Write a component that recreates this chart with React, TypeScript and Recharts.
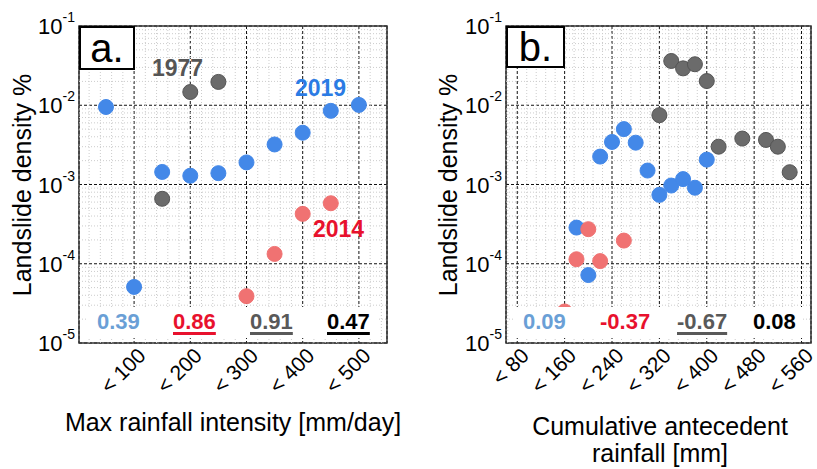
import React from "react";
import { ScatterChart, Scatter, XAxis, YAxis, CartesianGrid, ReferenceLine, ReferenceArea } from "recharts";

const FONT = "'Liberation Sans', Arial, Helvetica, sans-serif";

// panel a: max rainfall intensity [mm/day]
const intensity2019 = [50, 100, 150, 200, 250, 300, 350, 400, 450, 500];
const densityA2019 = [0.0095, 5.1e-5, 0.00144, 0.00129, 0.00139, 0.0019, 0.0032, 0.0045, 0.0085, 0.0101];
const intensity1977 = [150, 200, 250];
const densityA1977 = [0.00066, 0.0147, 0.0197];
const intensity2014 = [300, 350, 400, 450];
const densityA2014 = [3.9e-5, 0.000133, 0.000426, 0.00058];

// panel b: cumulative antecedent rainfall [mm]
const cumul2019 = [180, 200, 220, 240, 260, 280, 300, 320, 340, 360, 380, 400];
const densityB2019 = [0.000286, 7.2e-5, 0.00225, 0.00344, 0.005, 0.00337, 0.0015, 0.00074, 0.00097, 0.00117, 0.00091, 0.00206];
const cumul1977 = [320, 340, 360, 380, 400, 420, 460, 500, 520, 540];
const densityB1977 = [0.0075, 0.0362, 0.0292, 0.0329, 0.0202, 0.003, 0.0038, 0.00365, 0.003, 0.00143];
const cumul2014 = [160, 180, 200, 220, 260];
const densityB2014 = [2.5e-5, 0.000114, 0.000273, 0.000108, 0.000196];

const yTicks = [1e-5, 1e-4, 1e-3, 1e-2, 1e-1];
const ticksA = [100, 200, 300, 400, 500];
const ticksB = [80, 160, 240, 320, 400, 480, 560];

const corrA = [
  { text: "0.39", color: "#6a9fd6", under: false },
  { text: "0.86", color: "#e8112d", under: true },
  { text: "0.91", color: "#595959", under: true },
  { text: "0.47", color: "#000000", under: true },
];
const corrB = [
  { text: "0.09", color: "#6a9fd6", under: false },
  { text: "-0.37", color: "#e8112d", under: false },
  { text: "-0.67", color: "#595959", under: true },
  { text: "0.08", color: "#000000", under: false },
];

const BLUE = "#4388e8";
const GRAY = "#6b6b6b";
const RED = "#f07272";

const toPts = (xs: number[], ys: number[]) => xs.map((x, i) => ({ x, y: ys[i] }));

// log minor grid 2..9 x 10^k
const minorY: number[] = [];
[-5, -4, -3, -2].forEach((k) => {
  for (let m = 2; m <= 9; m++) minorY.push(m * Math.pow(10, k));
});

const dot = (fill: string, stroke: string) => (p: any) => (
  <circle cx={p.cx} cy={p.cy} r={7.5} fill={fill} stroke={stroke} strokeWidth={1} />
);

const PowerTick = (props: any) => {
  const { x, y, payload } = props;
  const exp = Math.round(Math.log10(payload.value));
  return (
    <text x={x - 4} y={y + 8} textAnchor="end" fontFamily={FONT} fill="#000">
      <tspan fontSize={22}>10</tspan>
      <tspan fontSize={14} dy={-12}>{exp}</tspan>
    </text>
  );
};

const SlantTick = (props: any) => {
  const { x, y, payload } = props;
  const ax = x + 13;
  const ay = y + 14;
  return (
    <text x={ax} y={ay} textAnchor="end" fontFamily={FONT} fontSize={21} fill="#000" transform={`rotate(-45 ${ax} ${ay})`}>
      {"< " + payload.value}
    </text>
  );
};

function Txt({ left, baseline, size, color, bold, under, children }: any) {
  return (
    <div
      style={{
        position: "absolute",
        left,
        top: baseline - 0.8465 * size,
        fontSize: size,
        lineHeight: `${size}px`,
        fontFamily: FONT,
        fontWeight: bold ? "bold" : "normal",
        color,
        whiteSpace: "nowrap",
        textDecoration: under ? "underline" : "none",
        textDecorationThickness: "2.5px",
        textUnderlineOffset: "3px",
      }}
    >
      {children}
    </div>
  );
}

interface PanelProps {
  width: number;
  axisWidth: number;
  rightMargin: number;
  xDomain: [number, number];
  xTicks: number[];
  minorStep: number;
  gray: { x: number; y: number }[];
  blue: { x: number; y: number }[];
  red: { x: number; y: number }[];
}

function Panel({ width, axisWidth, rightMargin, xDomain, xTicks, minorStep, gray, blue, red }: PanelProps) {
  const minorX: number[] = [];
  for (let v = xTicks[0] - minorStep * Math.floor((xTicks[0] - xDomain[0]) / minorStep); v < xDomain[1]; v += minorStep) {
    if (!xTicks.includes(v)) minorX.push(v);
  }
  return (
    <ScatterChart width={width} height={469} margin={{ top: 26, right: rightMargin, bottom: 0, left: 0 }} style={{ overflow: "visible" }}>
      <XAxis
        type="number"
        dataKey="x"
        domain={xDomain}
        ticks={xTicks}
        allowDataOverflow
        axisLine={false}
        tickLine={false}
        tickSize={0}
        tickMargin={0}
        height={126}
        tick={<SlantTick />}
        interval={0}
      />
      <YAxis
        type="number"
        dataKey="y"
        scale="log"
        domain={[1e-5, 1e-1]}
        ticks={yTicks}
        allowDataOverflow
        axisLine={false}
        tickLine={false}
        tickSize={0}
        tickMargin={0}
        width={axisWidth}
        tick={<PowerTick />}
        interval={0}
      />
      {minorX.map((v) => (
        <ReferenceLine key={"mx" + v} x={v} stroke="#cccccc" strokeDasharray="1 2" />
      ))}
      {minorY.map((v) => (
        <ReferenceLine key={"my" + v} y={v} stroke="#cccccc" strokeDasharray="1 2" />
      ))}
      <CartesianGrid stroke="#111" strokeDasharray="3 2" />
      <ReferenceArea x1={xDomain[0]} x2={xDomain[1]} y1={1e-5} y2={1e-1} fill="none" stroke="#333" strokeWidth={1.5} ifOverflow="visible" />
      <Scatter data={gray} shape={dot(GRAY, "#555")} isAnimationActive={false} />
      <Scatter data={blue} shape={dot(BLUE, BLUE)} isAnimationActive={false} />
      <Scatter data={red} shape={dot(RED, RED)} isAnimationActive={false} />
    </ScatterChart>
  );
}

function CorrRow({ items, lefts }: { items: typeof corrA; lefts: number[] }) {
  return (
    <>
      {items.map((c, i) => (
        <Txt key={c.text} left={lefts[i]} baseline={330} size={22} color={c.color} bold under={c.under}>
          {c.text}
        </Txt>
      ))}
    </>
  );
}

const boxStyle: React.CSSProperties = {
  position: "absolute",
  border: "2px solid #000",
  background: "#fff",
  boxSizing: "border-box",
  fontFamily: FONT,
  fontSize: 40,
  textAlign: "center",
  color: "#000",
};

export default function App() {
  return (
    <div style={{ position: "fixed", left: 0, top: 0, width: 817, height: 469, background: "#fff", overflow: "hidden" }}>
      <div style={{ position: "absolute", left: 0, top: 0 }}>
        <Panel
          width={410}
          axisWidth={79}
          rightMargin={23}
          xDomain={[2, 550]}
          xTicks={ticksA}
          minorStep={20}
          gray={toPts(intensity1977, densityA1977)}
          blue={toPts(intensity2019, densityA2019)}
          red={toPts(intensity2014, densityA2014)}
        />
      </div>
      <div style={{ position: "absolute", left: 410, top: 0 }}>
        <Panel
          width={407}
          axisWidth={96}
          rightMargin={6}
          xDomain={[61, 576]}
          xTicks={ticksB}
          minorStep={16}
          gray={toPts(cumul1977, densityB1977)}
          blue={toPts(cumul2019, densityB2019)}
          red={toPts(cumul2014, densityB2014)}
        />
      </div>

      {/* label strip masks */}
      <div style={{ position: "absolute", left: 88, top: 307, width: 290, height: 31, background: "#fff" }} />
      <div style={{ position: "absolute", left: 515, top: 307, width: 288, height: 31, background: "#fff" }} />

      {/* panel letters */}
      <div style={{ ...boxStyle, left: 79, top: 26, width: 56, height: 44, lineHeight: "40px" }}>a.</div>
      <div style={{ ...boxStyle, left: 506, top: 26, width: 59, height: 42, lineHeight: "38px" }}>b.</div>

      {/* year labels */}
      <Txt left={152} baseline={76} size={23} color="#555555" bold>1977</Txt>
      <Txt left={295} baseline={96} size={23} color="#2b7be4" bold>2019</Txt>
      <Txt left={313} baseline={237} size={23} color="#e8112d" bold>2014</Txt>

      <CorrRow items={corrA} lefts={[97, 173, 250, 327]} />
      <CorrRow items={corrB} lefts={[523, 600, 677, 753]} />

      {/* axis titles */}
      {[22, 448].map((cx) => (
        <div
          key={cx}
          style={{
            position: "absolute",
            left: cx,
            top: 185,
            transform: "translate(-50%, -50%) rotate(-90deg)",
            fontFamily: FONT,
            fontSize: 25,
            whiteSpace: "nowrap",
            color: "#000",
          }}
        >
          Landslide density %
        </div>
      ))}
      <div style={{ position: "absolute", left: 0, width: 466, top: 409, textAlign: "center", fontFamily: FONT, fontSize: 25, lineHeight: "27px", color: "#000" }}>
        Max rainfall intensity [mm/day]
      </div>
      <div style={{ position: "absolute", left: 506, width: 308, top: 413, textAlign: "center", fontFamily: FONT, fontSize: 25, lineHeight: "27px", color: "#000" }}>
        <div style={{ whiteSpace: "nowrap", marginLeft: -100, marginRight: -100 }}>Cumulative antecedent</div>
        <div>rainfall [mm]</div>
      </div>
    </div>
  );
}
